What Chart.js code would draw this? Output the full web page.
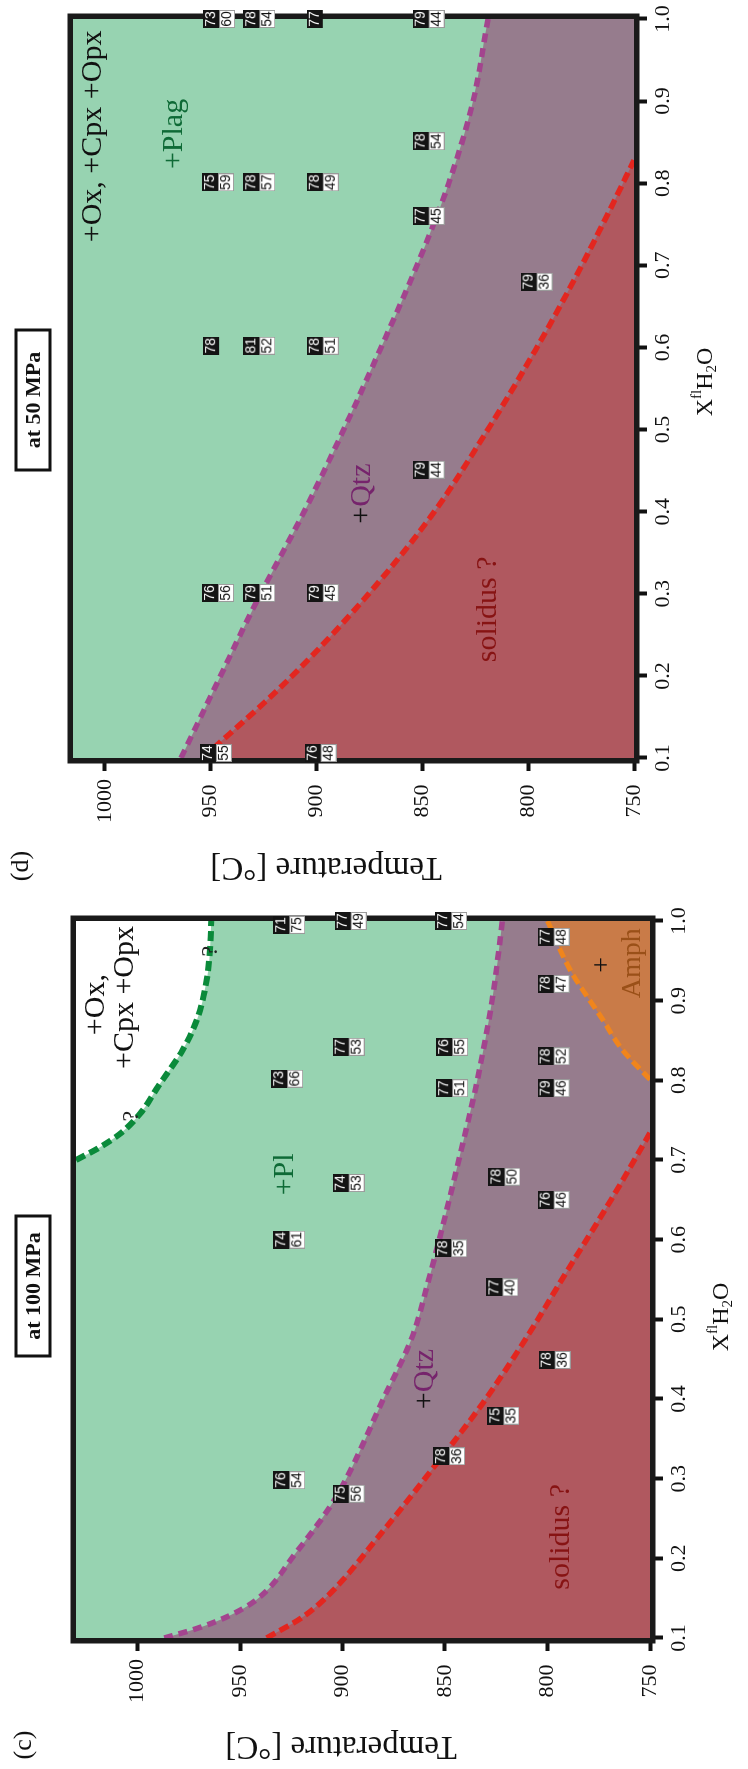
<!DOCTYPE html>
<html>
<head>
<meta charset="utf-8">
<script src="https://cdn.jsdelivr.net/npm/chart.js@4.4.1/dist/chart.umd.min.js"></script>
<style>
  html, body { margin: 0; padding: 0; background: #fff; overflow: hidden; }
  /* the figure is laid out landscape and turned a quarter turn anticlockwise */
  #sheet { position: absolute; left: 0; top: 0; width: 1769px; height: 748px;
           transform-origin: 0 0; transform: translate(0px, 1769px) rotate(-90deg); }
  #sheet canvas { position: absolute; top: 0; }
  #chartC { left: 0; }
  #chartD { left: 884px; }
</style>
</head>
<body>
<div id="sheet">
  <canvas id="chartC" width="884" height="748"></canvas>
  <canvas id="chartD" width="885" height="748"></canvas>
</div>
<script>
(() => {
  const serif = '"Liberation Serif", "Times New Roman", serif';

  // (c) 100 MPa phase boundaries: X(H2O) and temperature
  const qtzC_x = [0.1, 0.112, 0.127, 0.148, 0.206, 0.269, 0.311, 0.395, 0.478, 0.554, 0.608, 0.692, 0.797, 0.901, 1.0];
  const qtzC_t = [987, 971, 956, 942, 923, 905, 896, 881, 866, 857.5, 852, 844, 834.5, 827, 822];
  const solC_x = [0.1, 0.127, 0.156, 0.227, 0.311, 0.395, 0.478, 0.554, 0.65, 0.734];
  const solC_t = [937, 919, 906, 882.5, 856.5, 831.5, 810, 792, 769, 750];
  const oxC_x = [0.70, 0.715, 0.734, 0.759, 0.792, 0.838, 0.876, 0.93, 0.97, 1.0];
  const oxC_t = [1030, 1019, 1008, 998.5, 990, 978, 971, 966, 964.5, 964];
  const amphC_x = [0.801, 0.84, 0.876, 0.939, 1.0];
  const amphC_t = [750, 764, 773, 789, 800];

  // (c) experiment labels: upper (black) and lower (white) numbers
  const badgeC_x = [0.995, 1.0, 1.0, 0.98, 0.921, 0.842, 0.842, 0.83, 0.802, 0.79, 0.79, 0.679, 0.671, 0.65, 0.60, 0.589, 0.54, 0.449, 0.379, 0.328, 0.298, 0.281];
  const badgeC_t = [926, 896, 847, 797, 797, 897, 846.5, 797, 927, 846.5, 797, 821, 897, 797, 926, 847, 822, 796.5, 821.5, 848, 926, 897];
  const badgeC_top = [71, 77, 77, 77, 78, 77, 76, 78, 73, 77, 79, 78, 74, 76, 74, 78, 77, 78, 75, 78, 76, 75];
  const badgeC_bot = [75, 49, 54, 48, 47, 53, 55, 52, 66, 51, 46, 50, 53, 46, 61, 35, 40, 36, 35, 36, 54, 56];

  // (d) 50 MPa phase boundaries
  const qtzD_x = [0.1, 0.191, 0.292, 0.394, 0.495, 0.597, 0.7, 0.8, 0.9, 1.0];
  const qtzD_t = [964, 947, 928, 907, 888, 870, 852.5, 837.5, 826, 819];
  const solD_x = [0.1, 0.118, 0.191, 0.292, 0.394, 0.496, 0.597, 0.686, 0.767, 0.828];
  const solD_t = [954, 946, 915, 878, 846, 820, 796.5, 777.5, 761.5, 750];

  // (d) experiment labels
  const badgeD_x = [1.0, 1.0, 1.0, 1.0, 0.851, 0.801, 0.801, 0.801, 0.76, 0.68, 0.602, 0.602, 0.602, 0.451, 0.301, 0.301, 0.301, 0.106, 0.106];
  const badgeD_t = [946, 927, 897, 847, 847, 946.5, 927, 897, 847, 796, 946, 927, 897, 847, 946.5, 927, 897, 947.5, 898];
  const badgeD_top = [73, 78, 77, 79, 78, 75, 78, 78, 77, 79, 78, 81, 78, 79, 76, 79, 79, 74, 76];
  const badgeD_bot = [60, 54, null, 44, 54, 59, 57, 49, 45, 36, null, 52, 51, 44, 56, 51, 45, 55, 48];

  // field names, placed in data units
  const black = '#111', green = '#0e6a36', plum = '#76246c', rust = '#871313';
  const notesC = [
    { parts: [['+Ox,', black]], x: 0.895, t: 1020 },
    { parts: [['+Cpx +Opx', black]], x: 0.904, t: 1006 },
    { parts: [['?', '#222']], x: 0.962, t: 964.5, size: 24 },
    { parts: [['?', '#222']], x: 0.755, t: 1002.6, size: 24 },
    { parts: [['+Pl', green]], x: 0.682, t: 928 },
    { parts: [['+', black], ['Qtz', plum]], x: 0.425, t: 859.6 },
    { parts: [['solidus ?', rust]], x: 0.227, t: 793.5 },
    { parts: [['+', black]], x: 0.945, t: 773, size: 28 },
    { parts: [['Amph', '#9a5018']], x: 0.947, t: 758.5, size: 28 },
  ];
  const notesD = [
    { parts: [['+Ox, +Cpx +Opx', black]], x: 0.857, t: 1005.7 },
    { parts: [['+Plag', green]], x: 0.86, t: 967 },
    { parts: [['+', black], ['Qtz', plum]], x: 0.422, t: 878.6 },
    { parts: [['solidus ?', rust]], x: 0.281, t: 818.7 },
  ];

  const makeBadge = (top, bot) => {
    const c = document.createElement('canvas');
    c.width = 18;
    c.height = 32;
    const g = c.getContext('2d');
    g.font = '14px "Liberation Sans", Arial, sans-serif';
    g.textAlign = 'center';
    g.textBaseline = 'middle';
    g.fillStyle = '#141414';
    g.fillRect(0, 0, 18, 16);
    g.fillStyle = '#fff';
    g.fillText(String(top), 9, 8.5);
    if (bot != null) {
      g.fillStyle = '#fff';
      g.fillRect(0, 16, 18, 16);
      g.strokeStyle = '#9a9a9a';
      g.lineWidth = 1;
      g.strokeRect(0.5, 16.5, 17, 15);
      g.fillStyle = '#111';
      g.fillText(String(bot), 9, 24.5);
    }
    return c;
  };

  const drawParts = (ctx, parts, cx, cy, size, weight) => {
    ctx.font = `${weight || 'normal'} ${size}px ${serif}`;
    ctx.textAlign = 'left';
    ctx.textBaseline = 'middle';
    const widths = parts.map((p) => ctx.measureText(p[0]).width);
    let x = cx - widths.reduce((a, b) => a + b, 0) / 2;
    parts.forEach((p, i) => {
      ctx.fillStyle = p[1];
      ctx.fillText(p[0], x, cy);
      x += widths[i];
    });
  };

  const drawXTitle = (ctx, cx, cy) => {
    const pieces = [['X', 24, 0], ['fl', 15, -9], ['H', 24, 0], ['2', 15, 6], ['O', 24, 0]];
    ctx.textAlign = 'left';
    ctx.textBaseline = 'middle';
    const widths = pieces.map((p) => {
      ctx.font = `${p[1]}px ${serif}`;
      return ctx.measureText(p[0]).width;
    });
    let x = cx - widths.reduce((a, b) => a + b, 0) / 2;
    ctx.fillStyle = '#111';
    pieces.forEach((p, i) => {
      ctx.font = `${p[1]}px ${serif}`;
      ctx.fillText(p[0], x, cy + p[2]);
      x += widths[i];
    });
  };

  const decor = {
    id: 'decor',
    beforeDatasetsDraw(chart) {
      const { ctx, chartArea: a } = chart;
      ctx.save();
      ctx.fillStyle = '#97d3b1';
      ctx.fillRect(a.left, a.top, a.width, a.height);
      ctx.lineWidth = 5.5;
      ctx.strokeStyle = '#1a1a1a';
      ctx.strokeRect(a.left - 2.75, a.top - 2.75, a.width + 5.5, a.height + 5.5);
      ctx.restore();
    },
    afterDatasetsDraw(chart, args, o) {
      const { ctx, scales: { x, y } } = chart;
      ctx.save();
      o.notes.forEach((n) =>
        drawParts(ctx, n.parts, x.getPixelForValue(n.x), y.getPixelForValue(n.t), n.size || 30));
      ctx.restore();
    },
    afterDraw(chart, args, o) {
      const { ctx, chartArea: a } = chart;
      ctx.save();
      // panel letter
      drawParts(ctx, [[o.letter, black]], o.letterPos[0], o.letterPos[1], 26);
      // pressure box
      const [bx, by] = o.boxPos;
      ctx.fillStyle = '#fff';
      ctx.fillRect(bx - 70, by - 17, 140, 34);
      ctx.lineWidth = 3;
      ctx.strokeStyle = '#111';
      ctx.strokeRect(bx - 70, by - 17, 140, 34);
      drawParts(ctx, [[o.box, black]], bx, by + 1, 22, 'bold');
      // temperature title, turned along the axis
      ctx.translate(o.tTitle[0], o.tTitle[1]);
      ctx.rotate(-Math.PI / 2);
      drawParts(ctx, [['Temperature [°C]', black]], 0, 0, 33);
      ctx.setTransform(1, 0, 0, 1, 0, 0);
      drawXTitle(ctx, o.xTitle, a.bottom + 72);
      ctx.restore();
    },
  };

  const pts = (xs, ts) => xs.map((x, i) => ({ x, y: ts[i] }));

  const boundary = (xs, ts, color, fillColor, fill, order, dash, width) => ({
    data: pts(xs, ts),
    borderColor: color,
    backgroundColor: fillColor,
    fill,
    order,
    borderDash: dash,
    borderWidth: width,
    pointRadius: 0,
    cubicInterpolationMode: 'monotone',
    clip: 0,
  });

  const badges = (xs, ts, tops, bots) => ({
    data: pts(xs, ts),
    showLine: false,
    pointStyle: tops.map((t, i) => makeBadge(t, bots[i])),
    pointRadius: 10,
    order: 0,
    clip: false,
  });

  const build = (id, p) => {
    new Chart(document.getElementById(id), {
      type: 'line',
      data: { datasets: p.datasets },
      options: {
        responsive: false,
        devicePixelRatio: 1,
        animation: false,
        events: [],
        layout: { padding: p.padding },
        plugins: {
          legend: { display: false },
          tooltip: { enabled: false },
          decor: p.decor,
        },
        scales: {
          x: {
            type: 'linear',
            min: 0.1,
            max: 1.0,
            afterFit: (s) => { s.height = p.xHeight; },
            border: { display: false },
            grid: { drawOnChartArea: false, drawTicks: true, tickLength: 13, tickWidth: 4, tickColor: '#111' },
            ticks: {
              stepSize: 0.1,
              padding: 3,
              color: '#111',
              font: { family: serif, size: 22 },
              callback: (v) => Number(v).toFixed(1),
            },
          },
          y: {
            type: 'linear',
            min: 750,
            max: p.tMax,
            afterFit: (s) => { s.width = p.yWidth; },
            border: { display: false },
            grid: { drawOnChartArea: false, drawTicks: true, tickLength: 13, tickWidth: 4, tickColor: '#111' },
            ticks: {
              stepSize: 50,
              includeBounds: false,
              crossAlign: 'center',
              padding: 8,
              color: '#111',
              font: { family: serif, size: 22 },
              callback: (v) => String(v),
            },
          },
        },
      },
      plugins: [decor],
    });
  };

  build('chartC', {
    tMax: 1030,
    yWidth: 131,
    xHeight: 98,
    padding: { left: 0, right: 36, top: 76, bottom: 0 },
    datasets: [
      boundary(qtzC_x, qtzC_t, '#a3448e', '#967c8d', 'start', 5, [9, 6], 5.5),
      boundary(solC_x, solC_t, '#e3261f', '#b0585f', 'start', 4, [10, 5], 5.5),
      boundary(amphC_x, amphC_t, '#f0851c', '#c97b48', 'start', 3, [10, 5], 5),
      boundary(oxC_x, oxC_t, '#0a8a3a', '#ffffff', 'end', 2, [10, 5], 6),
      badges(badgeC_x, badgeC_t, badgeC_top, badgeC_bot),
    ],
    decor: {
      notes: notesC,
      letter: '(c)',
      letterPos: [24, 24],
      box: 'at 100 MPa',
      boxPos: [483, 33],
      tTitle: [23, 341],
      xTitle: 452,
    },
  });

  build('chartD', {
    tMax: 1015,
    yWidth: 127,
    xHeight: 114,
    padding: { left: 0, right: 19, top: 73, bottom: 0 },
    datasets: [
      boundary(qtzD_x, qtzD_t, '#a3448e', '#967c8d', 'start', 5, [9, 6], 5.5),
      boundary(solD_x, solD_t, '#e3261f', '#b0585f', 'start', 4, [10, 5], 5.5),
      badges(badgeD_x, badgeD_t, badgeD_top, badgeD_bot),
    ],
    decor: {
      notes: notesD,
      letter: '(d)',
      letterPos: [19, 21],
      box: 'at 50 MPa',
      boxPos: [485, 33],
      tTitle: [18, 326],
      xTitle: 503,
    },
  });
})();
</script>
</body>
</html>
